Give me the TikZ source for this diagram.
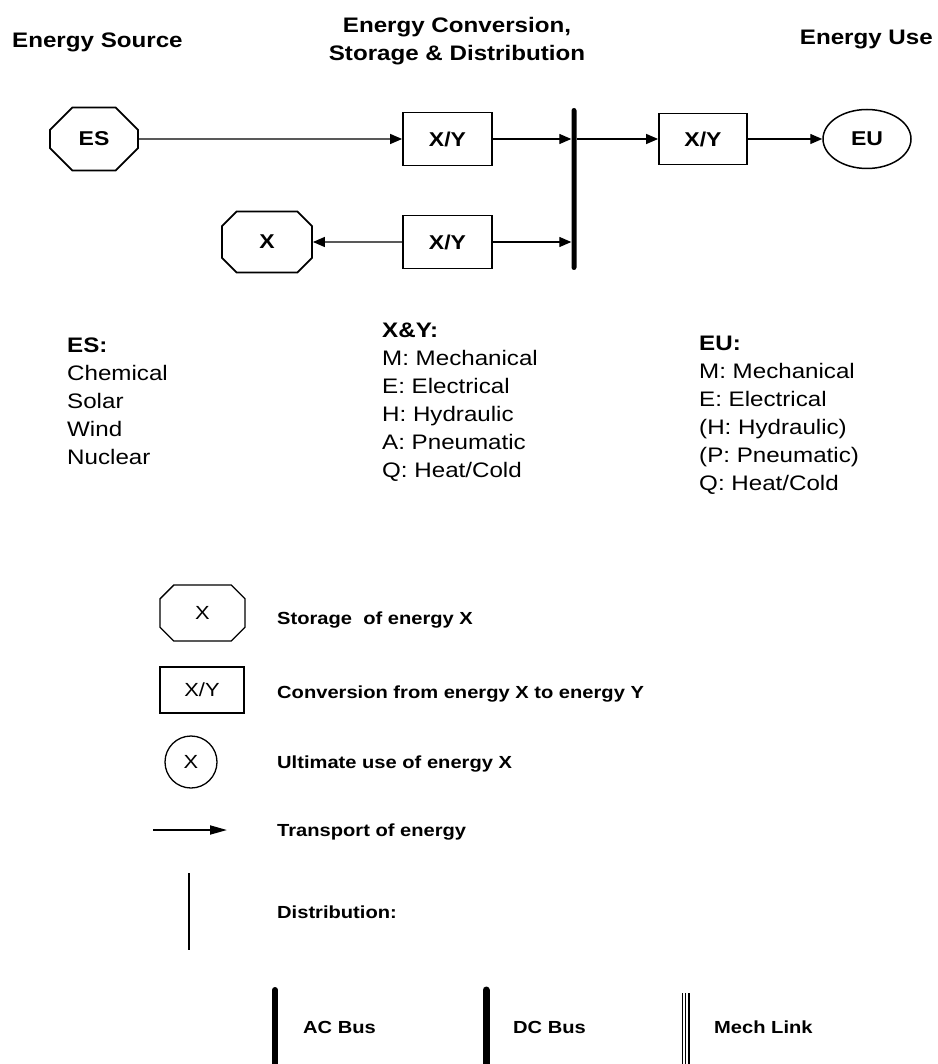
\documentclass[tikz,border=0pt]{standalone}
\usepackage{fontspec}
\setmainfont{Liberation Sans}[FakeStretch=1.15]
\usetikzlibrary{arrows.meta,shapes.misc,shapes.geometric}
\begin{document}
\begin{tikzpicture}[x=1pt,y=-1pt,
  hdr/.style={font=\fontsize{21}{25}\selectfont\bfseries, inner sep=0},
  lst/.style={font=\fontsize{21}{23}\selectfont, inner sep=0, anchor=base west},
  lsthd/.style={font=\fontsize{21}{23}\selectfont\bfseries, inner sep=0, anchor=base west},
  leg/.style={font=\fontsize{17.5}{21}\selectfont\bfseries, inner sep=0, anchor=base west},
  store/.style={chamfered rectangle, chamfered rectangle xsep=27pt, chamfered rectangle ysep=18pt,
    draw, line width=1.8pt, minimum width=88pt, minimum height=63pt, inner sep=0,
    font=\fontsize{20}{24}\selectfont\bfseries},
  conv/.style={rectangle, draw, line width=1.8pt, minimum width=89pt, minimum height=53pt,
    inner sep=0, font=\fontsize{20}{24}\selectfont\bfseries},
  enduse/.style={ellipse, draw, line width=1.5pt, minimum width=88pt, minimum height=59pt,
    inner sep=0, font=\fontsize{20}{24}\selectfont\bfseries},
  busbar/.style={fill=black, inner sep=0, minimum width=5pt, rounded corners=2.5pt},
  arr/.style={line width=1.3pt, -{Triangle[length=12pt,width=10pt]}},
  legarr/.style={line width=1.8pt, -{Triangle[length=17pt,width=9pt]}},
  legstore/.style={chamfered rectangle, chamfered rectangle xsep=25pt, chamfered rectangle ysep=17pt,
    draw, line width=1.3pt, minimum width=85pt, minimum height=56pt, inner sep=0,
    font=\fontsize{19}{23}\selectfont},
  legconv/.style={rectangle, draw, line width=1.3pt, minimum width=84pt, minimum height=46pt,
    inner sep=0, font=\fontsize{19}{23}\selectfont},
  leguse/.style={circle, draw, line width=1.3pt, minimum size=52pt, inner sep=0,
    font=\fontsize{19}{23}\selectfont},
  thickbus/.style={line width=6pt, line cap=round},
]
\useasboundingbox (0,0) rectangle (937,1064);

% headers
\node[hdr, anchor=base west] (h1) at (12,47.5) {Energy Source};
\node[hdr, anchor=base] (h2a) at (457,32.5) {Energy Conversion,};
\node[hdr, anchor=base] (h2b) at (457,60.5) {Storage \& Distribution};
\node[hdr, anchor=base east] (h3) at (933,44.5) {Energy Use};

% main diagram
\node[store] (es) at (94,139) {ES};
\node[conv] (xy1) at (447.5,139) {X/Y};
\node[busbar, minimum height=162pt] (bus) at (574,189) {};
\node[conv, minimum width=88pt, minimum height=51pt] (xy2) at (703,139) {X/Y};
\node[enduse] (eu) at (867,139) {EU};
\node[store, minimum width=90pt, minimum height=61pt, chamfered rectangle xsep=25pt, chamfered rectangle ysep=16pt] (xs) at (267,242) {X};
\node[conv] (xy3) at (447.5,242) {X/Y};

\draw[arr] (es) -- (xy1);
\draw[arr] (xy1) -- (xy1 -| bus.west);
\draw[arr] (bus.east |- xy2) -- (xy2);
\draw[arr] (xy2) -- (eu);
\draw[arr] (xy3) -- (xs);
\draw[arr] (xy3) -- (xy3 -| bus.west);

% lists
\node[lsthd] (esh) at (67,352) {ES:};
\foreach \t [count=\i] in {Chemical, Solar, Wind, Nuclear}
  \node[lst] (es\i) at (67,352+28*\i) {\t};

\node[lsthd] (xyh) at (382,337) {X\&Y:};
\foreach \t [count=\i] in {{M: Mechanical}, {E: Electrical}, {H: Hydraulic}, {A: Pneumatic}, {Q: Heat/Cold}}
  \node[lst] (xyl\i) at (382,337+28*\i) {\t};

\node[lsthd] (euh) at (699,350) {EU:};
\foreach \t [count=\i] in {{M: Mechanical}, {E: Electrical}, {(H: Hydraulic)}, {(P: Pneumatic)}, {Q: Heat/Cold}}
  \node[lst] (eul\i) at (699,350+28*\i) {\t};

% legend
\node[legstore] (ls) at (202.5,613) {X};
\node[leg] (lst1) at (277,624.3) {Storage\ \ of energy X};
\node[legconv] (lc) at (202,690) {X/Y};
\node[leg] (lct) at (277,698.3) {Conversion from energy X to energy Y};
\node[leguse] (lu) at (191,762) {X};
\node[leg] (lut) at (277,768.3) {Ultimate use of energy X};
\coordinate (ta) at (153,830);
\coordinate (tb) at (227,830);
\draw[legarr] (ta) -- (tb);
\node[leg] (ltt) at (277,836.3) {Transport of energy};
\coordinate (da) at (189,873);
\coordinate (db) at (189,950);
\draw[line width=1.5pt] (da) -- (db);
\node[leg] (ldt) at (277,918.3) {Distribution:};

\coordinate (aca) at (275,990);
\coordinate (acb) at (275,1075);
\draw[thickbus] (aca) -- (acb);
\node[leg] (act) at (303,1033) {AC Bus};
\coordinate (dca) at (486,990);
\coordinate (dcb) at (486,1075);
\draw[thickbus, line width=7pt] (dca) -- (dcb);
\node[leg] (dct) at (513,1033) {DC Bus};
\coordinate (ma) at (682,993);
\coordinate (mb) at (682,1075);
\coordinate (mc) at (685.5,993);
\coordinate (md) at (685.5,1075);
\coordinate (me) at (689,993);
\coordinate (mf) at (689,1075);
\draw[line width=1pt] (ma) -- (mb);
\draw[line width=1pt] (mc) -- (md);
\draw[line width=2.5pt] (me) -- (mf);
\node[leg] (mlt) at (714,1033) {Mech Link};
\end{tikzpicture}
\end{document}
